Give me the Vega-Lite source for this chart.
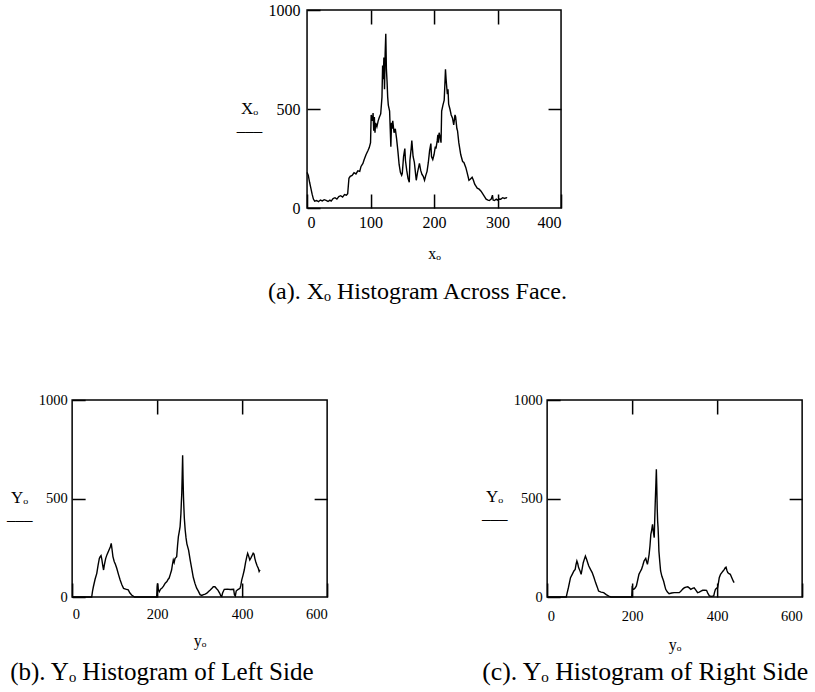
{
  "$schema": "https://vega.github.io/schema/vega-lite/v6.json",
  "background": "white",
  "padding": {"left": 5, "top": 1, "right": 5, "bottom": 5},
  "config": {
    "view": {"stroke": "black", "strokeWidth": 1.5},
    "font": "Liberation Serif",
    "axis": {"grid": false, "domain": false, "format": "d", "labelFont": "Liberation Serif", "labelColor": "black", "titleFont": "Liberation Serif", "titleColor": "black", "titleFontWeight": "normal", "tickColor": "black", "tickWidth": 1.5},
    "title": {"font": "Liberation Serif", "fontWeight": "normal", "color": "black"}
  },
  "bounds": "full",
  "center": true,
  "spacing": 86,
  "vconcat": [
    {
      "width": 254, "height": 198,
      "title": {"text": "(a). Xₒ Histogram Across  Face.", "orient": "bottom", "anchor": "start", "frame": "group", "dx": -39, "offset": 19, "fontSize": 24},
      "data": {"values": [
        {"x":0,"y":180},{"x":2,"y":165},{"x":4,"y":130},{"x":6,"y":100},{"x":8,"y":70},{"x":10,"y":45},{"x":12,"y":35},{"x":15,"y":38},{"x":18,"y":32},{"x":21,"y":40},{"x":24,"y":36},{"x":27,"y":42},{"x":30,"y":38},{"x":33,"y":33},{"x":36,"y":40},{"x":38,"y":35},{"x":41,"y":48},{"x":44,"y":52},{"x":47,"y":45},{"x":50,"y":58},{"x":53,"y":62},{"x":56,"y":55},{"x":59,"y":68},{"x":62,"y":65},{"x":64,"y":72},{"x":66,"y":150},{"x":68,"y":160},{"x":71,"y":165},{"x":74,"y":178},{"x":77,"y":172},{"x":80,"y":188},{"x":83,"y":185},{"x":85,"y":210},{"x":88,"y":225},{"x":90,"y":245},{"x":93,"y":270},{"x":96,"y":290},{"x":98,"y":305},{"x":100,"y":330},{"x":101,"y":470},{"x":103,"y":440},{"x":104,"y":480},{"x":105,"y":390},{"x":106,"y":460},{"x":107,"y":380},{"x":108,"y":430},{"x":110,"y":410},{"x":112,"y":440},{"x":114,"y":460},{"x":116,"y":475},{"x":118,"y":560},{"x":119,"y":720},{"x":120,"y":650},{"x":121,"y":760},{"x":122,"y":600},{"x":123,"y":780},{"x":124,"y":880},{"x":125,"y":700},{"x":126,"y":640},{"x":127,"y":560},{"x":128,"y":520},{"x":130,"y":490},{"x":131,"y":400},{"x":132,"y":310},{"x":133,"y":430},{"x":134,"y":400},{"x":135,"y":440},{"x":137,"y":380},{"x":139,"y":400},{"x":141,"y":350},{"x":143,"y":290},{"x":145,"y":220},{"x":147,"y":180},{"x":149,"y":165},{"x":150,"y":175},{"x":152,"y":260},{"x":154,"y":300},{"x":155,"y":240},{"x":157,"y":190},{"x":159,"y":150},{"x":161,"y":130},{"x":162,"y":240},{"x":164,"y":300},{"x":165,"y":340},{"x":167,"y":260},{"x":169,"y":230},{"x":171,"y":170},{"x":172,"y":140},{"x":174,"y":180},{"x":176,"y":210},{"x":177,"y":225},{"x":179,"y":190},{"x":181,"y":170},{"x":183,"y":160},{"x":185,"y":140},{"x":187,"y":165},{"x":189,"y":185},{"x":191,"y":230},{"x":193,"y":290},{"x":195,"y":325},{"x":196,"y":260},{"x":198,"y":245},{"x":200,"y":270},{"x":202,"y":310},{"x":203,"y":300},{"x":205,"y":340},{"x":206,"y":370},{"x":207,"y":330},{"x":208,"y":380},{"x":210,"y":350},{"x":211,"y":330},{"x":212,"y":490},{"x":214,"y":520},{"x":216,"y":545},{"x":217,"y":620},{"x":218,"y":700},{"x":219,"y":650},{"x":220,"y":610},{"x":221,"y":575},{"x":222,"y":600},{"x":223,"y":525},{"x":225,"y":500},{"x":227,"y":470},{"x":229,"y":455},{"x":231,"y":420},{"x":233,"y":470},{"x":234,"y":460},{"x":236,"y":400},{"x":237,"y":390},{"x":239,"y":330},{"x":242,"y":270},{"x":245,"y":235},{"x":247,"y":230},{"x":250,"y":205},{"x":252,"y":180},{"x":255,"y":140},{"x":257,"y":145},{"x":260,"y":155},{"x":262,"y":140},{"x":264,"y":120},{"x":266,"y":110},{"x":268,"y":100},{"x":271,"y":95},{"x":274,"y":85},{"x":277,"y":70},{"x":280,"y":55},{"x":282,"y":45},{"x":285,"y":40},{"x":287,"y":38},{"x":290,"y":45},{"x":292,"y":65},{"x":293,"y":40},{"x":295,"y":38},{"x":298,"y":45},{"x":300,"y":40},{"x":303,"y":45},{"x":305,"y":44},{"x":308,"y":52},{"x":311,"y":48},{"x":314,"y":52},{"x":315,"y":50}
      ]},
      "layer": [
        {"mark": {"type": "line", "color": "black", "strokeWidth": 1.4},
         "encoding": {
           "x": {"field": "x", "type": "quantitative", "scale": {"domain": [0, 400], "nice": false},
                 "axis": {"orient": "bottom", "values": [0, 100, 200, 300, 400], "tickSize": -14, "labelFlush": true, "labelFontSize": 16, "labelPadding": 20, "title": "xₒ", "titleFontSize": 16, "titleX": 127, "titleY": 50, "titleBaseline": "alphabetic"}},
           "y": {"field": "y", "type": "quantitative", "scale": {"domain": [0, 1000], "nice": false},
                 "axis": {"orient": "left", "values": [0, 500, 1000], "tickSize": -13, "labelFontSize": 16, "labelPadding": 20, "title": ["Xₒ", "___"], "titleAngle": 0, "titleAlign": "center", "titleBaseline": "alphabetic", "titleX": -58, "titleY": 103, "titleFontSize": 17, "titleLineHeight": 17}}
         }},
        {"mark": {"type": "line", "color": "black", "opacity": 0},
         "encoding": {
           "x": {"field": "x", "type": "quantitative", "axis": {"orient": "top", "values": [100, 200, 300], "tickSize": -14, "labels": false, "title": null}},
           "y": {"field": "y", "type": "quantitative", "axis": {"orient": "right", "values": [500], "tickSize": -13, "labels": false, "title": null}}
         }}
      ],
      "resolve": {"axis": {"x": "independent", "y": "independent"}}
    },
    {
      "hconcat": [
        {
          "width": 255, "height": 197,
          "title": {"text": "(b). Yₒ Histogram of Left Side", "orient": "bottom", "anchor": "start", "frame": "group", "dx": -62, "offset": 12, "fontSize": 25},
          "data": {"values": [
            {"x":0,"y":0},{"x":46,"y":0},{"x":48,"y":30},{"x":50,"y":52},{"x":54,"y":90},{"x":58,"y":120},{"x":61,"y":160},{"x":64,"y":196},{"x":66,"y":205},{"x":68,"y":210},{"x":70,"y":190},{"x":72,"y":160},{"x":74,"y":137},{"x":76,"y":165},{"x":79,"y":196},{"x":82,"y":215},{"x":85,"y":230},{"x":88,"y":245},{"x":90,"y":255},{"x":92,"y":272},{"x":94,"y":240},{"x":96,"y":205},{"x":99,"y":180},{"x":102,"y":165},{"x":105,"y":146},{"x":109,"y":115},{"x":113,"y":86},{"x":117,"y":62},{"x":121,"y":44},{"x":126,"y":40},{"x":132,"y":36},{"x":136,"y":20},{"x":140,"y":10},{"x":147,"y":0},{"x":199,"y":0},{"x":200,"y":50},{"x":201,"y":69},{"x":203,"y":35},{"x":205,"y":27},{"x":208,"y":40},{"x":211,"y":44},{"x":215,"y":55},{"x":219,"y":70},{"x":223,"y":78},{"x":226,"y":90},{"x":228,"y":95},{"x":231,"y":115},{"x":234,"y":137},{"x":236,"y":165},{"x":238,"y":188},{"x":240,"y":175},{"x":242,"y":195},{"x":244,"y":200},{"x":246,"y":205},{"x":248,"y":260},{"x":250,"y":306},{"x":252,"y":330},{"x":254,"y":357},{"x":255,"y":390},{"x":256,"y":425},{"x":257,"y":480},{"x":258,"y":527},{"x":259,"y":620},{"x":260,"y":720},{"x":261,"y":600},{"x":262,"y":509},{"x":263,"y":450},{"x":264,"y":400},{"x":266,"y":340},{"x":268,"y":300},{"x":270,"y":270},{"x":274,"y":238},{"x":278,"y":185},{"x":282,"y":137},{"x":285,"y":100},{"x":289,"y":69},{"x":293,"y":45},{"x":297,"y":30},{"x":301,"y":12},{"x":305,"y":8},{"x":309,"y":12},{"x":313,"y":15},{"x":317,"y":19},{"x":321,"y":28},{"x":325,"y":35},{"x":329,"y":44},{"x":332,"y":52},{"x":336,"y":52},{"x":340,"y":42},{"x":343,"y":35},{"x":347,"y":20},{"x":350,"y":5},{"x":352,"y":3},{"x":354,"y":20},{"x":358,"y":39},{"x":365,"y":40},{"x":372,"y":38},{"x":380,"y":39},{"x":382,"y":10},{"x":384,"y":5},{"x":386,"y":30},{"x":390,"y":38},{"x":395,"y":44},{"x":397,"y":60},{"x":399,"y":86},{"x":402,"y":110},{"x":405,"y":137},{"x":408,"y":175},{"x":411,"y":205},{"x":413,"y":222},{"x":415,"y":210},{"x":418,"y":188},{"x":421,"y":200},{"x":424,"y":213},{"x":426,"y":222},{"x":428,"y":218},{"x":430,"y":195},{"x":432,"y":179},{"x":435,"y":160},{"x":438,"y":146},{"x":440,"y":130},{"x":442,"y":138}
          ]},
          "layer": [
            {"mark": {"type": "line", "color": "black", "strokeWidth": 1.4},
             "encoding": {
               "x": {"field": "x", "type": "quantitative", "scale": {"domain": [0, 600], "nice": false},
                     "axis": {"orient": "bottom", "values": [0, 200, 400, 600], "tickSize": -14, "labelFlush": true, "labelFontSize": 14.5, "labelPadding": 24, "title": "yₒ", "titleFontSize": 16, "titleX": 127.5, "titleY": 48, "titleBaseline": "alphabetic"}},
               "y": {"field": "y", "type": "quantitative", "scale": {"domain": [0, 1000], "nice": false},
                     "axis": {"orient": "left", "values": [0, 500, 1000], "tickSize": -13, "labelFontSize": 14.5, "labelPadding": 18, "title": ["Yₒ", "___"], "titleAngle": 0, "titleAlign": "center", "titleBaseline": "alphabetic", "titleX": -53, "titleY": 102, "titleFontSize": 17, "titleLineHeight": 17}}
             }},
            {"mark": {"type": "line", "color": "black", "opacity": 0},
             "encoding": {
               "x": {"field": "x", "type": "quantitative", "axis": {"orient": "top", "values": [200, 400], "tickSize": -14, "labels": false, "title": null}},
               "y": {"field": "y", "type": "quantitative", "axis": {"orient": "right", "values": [500], "tickSize": -13, "labels": false, "title": null}}
             }}
          ],
          "resolve": {"axis": {"x": "independent", "y": "independent"}}
        },
        {
          "width": 255, "height": 197,
          "title": {"text": "(c). Yₒ Histogram of Right Side", "orient": "bottom", "anchor": "start", "frame": "group", "dx": -65, "offset": 8, "fontSize": 25.8},
          "data": {"values": [
            {"x":0,"y":0},{"x":45,"y":0},{"x":47,"y":20},{"x":50,"y":47},{"x":55,"y":98},{"x":59,"y":115},{"x":63,"y":132},{"x":66,"y":140},{"x":68,"y":165},{"x":70,"y":183},{"x":72,"y":170},{"x":74,"y":149},{"x":77,"y":135},{"x":80,"y":115},{"x":83,"y":150},{"x":85,"y":174},{"x":88,"y":195},{"x":90,"y":208},{"x":93,"y":190},{"x":96,"y":170},{"x":98,"y":157},{"x":102,"y":140},{"x":106,"y":124},{"x":110,"y":100},{"x":114,"y":73},{"x":118,"y":50},{"x":121,"y":30},{"x":127,"y":25},{"x":133,"y":22},{"x":139,"y":12},{"x":145,"y":5},{"x":150,"y":0},{"x":199,"y":0},{"x":200,"y":47},{"x":202,"y":40},{"x":204,"y":39},{"x":207,"y":45},{"x":210,"y":56},{"x":213,"y":85},{"x":216,"y":115},{"x":219,"y":128},{"x":222,"y":140},{"x":225,"y":160},{"x":228,"y":183},{"x":230,"y":190},{"x":232,"y":196},{"x":234,"y":180},{"x":236,"y":166},{"x":238,"y":190},{"x":240,"y":217},{"x":242,"y":260},{"x":244,"y":318},{"x":246,"y":340},{"x":248,"y":369},{"x":250,"y":330},{"x":252,"y":301},{"x":253,"y":380},{"x":254,"y":453},{"x":255,"y":520},{"x":256,"y":580},{"x":257,"y":648},{"x":258,"y":560},{"x":259,"y":450},{"x":260,"y":386},{"x":261,"y":352},{"x":262,"y":300},{"x":263,"y":233},{"x":265,"y":180},{"x":267,"y":132},{"x":270,"y":105},{"x":274,"y":81},{"x":277,"y":55},{"x":279,"y":39},{"x":283,"y":25},{"x":287,"y":17},{"x":293,"y":20},{"x":299,"y":22},{"x":305,"y":22},{"x":311,"y":22},{"x":315,"y":30},{"x":319,"y":40},{"x":323,"y":47},{"x":327,"y":50},{"x":331,"y":52},{"x":335,"y":45},{"x":338,"y":39},{"x":342,"y":44},{"x":346,"y":47},{"x":350,"y":35},{"x":354,"y":22},{"x":358,"y":25},{"x":362,"y":30},{"x":366,"y":34},{"x":371,"y":35},{"x":375,"y":34},{"x":378,"y":20},{"x":382,"y":5},{"x":387,"y":3},{"x":392,"y":5},{"x":394,"y":25},{"x":396,"y":39},{"x":399,"y":45},{"x":401,"y":47},{"x":403,"y":70},{"x":405,"y":98},{"x":408,"y":115},{"x":411,"y":124},{"x":414,"y":132},{"x":417,"y":140},{"x":419,"y":148},{"x":421,"y":151},{"x":423,"y":135},{"x":425,"y":124},{"x":428,"y":118},{"x":431,"y":115},{"x":434,"y":100},{"x":436,"y":90},{"x":438,"y":80},{"x":440,"y":73}
          ]},
          "layer": [
            {"mark": {"type": "line", "color": "black", "strokeWidth": 1.4},
             "encoding": {
               "x": {"field": "x", "type": "quantitative", "scale": {"domain": [0, 600], "nice": false},
                     "axis": {"orient": "bottom", "values": [0, 200, 400, 600], "tickSize": -14, "labelFlush": true, "labelFontSize": 14.5, "labelPadding": 26, "title": "yₒ", "titleFontSize": 16, "titleX": 127.5, "titleY": 52, "titleBaseline": "alphabetic"}},
               "y": {"field": "y", "type": "quantitative", "scale": {"domain": [0, 1000], "nice": false},
                     "axis": {"orient": "left", "values": [0, 500, 1000], "tickSize": -13, "labelFontSize": 14.5, "labelPadding": 18, "title": ["Yₒ", "___"], "titleAngle": 0, "titleAlign": "center", "titleBaseline": "alphabetic", "titleX": -53, "titleY": 101, "titleFontSize": 17, "titleLineHeight": 17}}
             }},
            {"mark": {"type": "line", "color": "black", "opacity": 0},
             "encoding": {
               "x": {"field": "x", "type": "quantitative", "axis": {"orient": "top", "values": [200, 400], "tickSize": -14, "labels": false, "title": null}},
               "y": {"field": "y", "type": "quantitative", "axis": {"orient": "right", "values": [500], "tickSize": -13, "labels": false, "title": null}}
             }}
          ],
          "resolve": {"axis": {"x": "independent", "y": "independent"}}
        }
      ],
      "spacing": 220,
      "bounds": "flush"
    }
  ]
}
